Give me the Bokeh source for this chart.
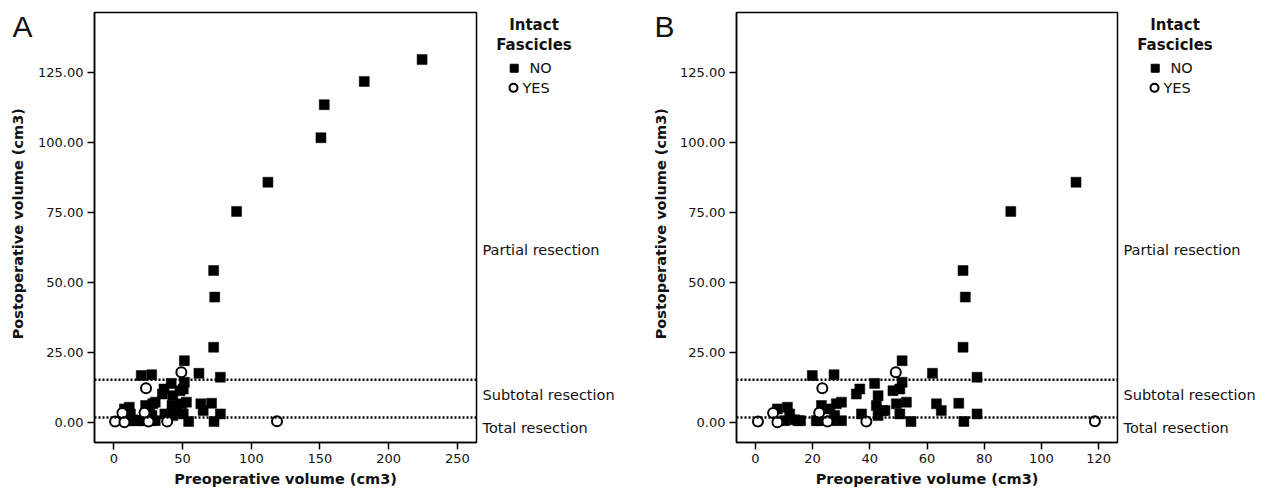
import math
from bokeh.plotting import figure
from bokeh.models import Span, FixedTicker, PrintfTickFormatter, Range1d
from bokeh.core.properties import value
from bokeh.layouts import row
from bokeh.embed import file_html
from bokeh.resources import INLINE

# ---- data ----
preop_no = [7.7, 11.2, 12.0, 13.7, 15.8, 10.2, 14.9,
            19.9, 27.5,
            23.1, 21.9, 26.0, 28.3, 30.1, 27.7, 30.1, 26.6, 21.3,
            35.3, 36.5, 37.1,
            51.3, 41.7, 51.3, 50.5, 48.1, 42.9, 42.3, 44.6, 42.9, 49.3, 52.8, 50.5, 54.4, 45.3,
            61.9, 63.3, 65.0, 71.1, 72.9, 77.5, 77.5,
            72.6, 73.4, 72.6,
            89.3, 112.1,
            150.7, 153.1, 182.2, 224.3]
postop_no = [4.9, 5.5, 3.1, 1.0, 0.7, 0.7, 0.7,
             16.8, 17.1,
             6.1, 0.7, 4.9, 6.7, 7.3, 2.5, 0.7, 0.7, 0.7,
             10.2, 12.0, 3.1,
             22.1, 14.0, 14.4, 12.0, 11.4, 9.6, 6.1, 4.3, 2.5, 6.7, 7.3, 3.1, 0.4, 4.3,
             17.6, 6.7, 4.3, 6.9, 0.4, 16.2, 3.1,
             54.3, 44.8, 26.9,
             75.4, 85.8,
             101.7, 113.5, 121.8, 129.6]
preop_yes = [0.9, 6.2, 7.7, 23.4, 22.3, 25.2, 38.8, 49.1, 118.7]
postop_yes = [0.4, 3.4, 0.1, 12.3, 3.5, 0.4, 0.4, 18.0, 0.5]

x_ticks_a = [0, 50, 100, 150, 200, 250]
x_ticks_b = [0, 20, 40, 60, 80, 100, 120]
y_ticks = [0, 25, 50, 75, 100, 125]
subtotal_threshold = 15.3
total_threshold = 1.8
zone_labels = ["Partial resection", "Subtotal resection", "Total resection"]
zone_label_y = [61.7, 9.9, -1.9]
legend_title = ["Intact", "Fascicles"]
legend_labels = ["NO", "YES"]
x_title = "Preoperative volume (cm3)"
y_title = "Postoperative volume (cm3)"

Y_MIN, Y_MAX = -7.1, 146.4
FONT = "DejaVu Sans"
TOP, FH, BOT = 12, 430, 44
TXT = "#111111"


def strip(width):
    s = figure(frame_width=width, frame_height=FH, min_border_left=0, min_border_right=0,
               min_border_top=TOP, min_border_bottom=BOT,
               x_range=Range1d(0, width), y_range=Range1d(Y_MIN, Y_MAX),
               x_axis_type=None, y_axis_type=None,
               output_backend="svg", toolbar_location=None)
    s.outline_line_color = None
    s.background_fill_color = "white"
    s.border_fill_color = "white"
    return s


def add_letter_and_ytitle(s, letter_x, ytitle_x, letter):
    s.text(x=[letter_x], y=[141.4], text=[letter], text_align="left", text_baseline="middle",
           text_font=value("Liberation Sans"), text_font_size="30px", text_color=TXT)
    s.text(x=[ytitle_x], y=[71.0], text=[y_title], angle=math.pi / 2, text_align="center",
           text_baseline="middle", text_font=value(FONT), text_font_size="14.5px",
           text_font_style="bold", text_color=TXT)


def add_side_texts(s, ox):
    # zone labels
    s.text(x=[ox + 4] * 3, y=zone_label_y, text=zone_labels, text_align="left",
           text_baseline="middle", text_font=value(FONT), text_font_size="14.5px",
           text_color=TXT)
    # legend title
    s.text(x=[ox + 55.5] * 2, y=[142.1, 134.9], text=legend_title, text_align="center",
           text_baseline="middle", text_font=value(FONT), text_font_size="15px",
           text_font_style="bold", text_color=TXT)
    # legend swatches and labels
    s.scatter(x=[ox + 35.7], y=[126.5], marker="square", size=8, fill_color="black",
              line_color="black")
    s.scatter(x=[ox + 35.0], y=[119.5], marker="circle", size=8, fill_color="white",
              line_color="black", line_width=2)
    s.text(x=[ox + 51, ox + 44], y=[126.5, 119.5], text=legend_labels, text_align="left",
           text_baseline="middle", text_font=value(FONT), text_font_size="14.5px",
           text_color=TXT)


def make_main(x_start, x_end, xticks, xmax_data, fw, bl, br):
    p = figure(frame_width=fw, frame_height=FH, min_border_left=bl, min_border_right=br,
               min_border_top=TOP, min_border_bottom=BOT,
               x_range=Range1d(x_start, x_end), y_range=Range1d(Y_MIN, Y_MAX),
               output_backend="svg", toolbar_location=None)
    p.xgrid.visible = False
    p.ygrid.visible = False
    p.outline_line_color = "black"
    p.outline_line_width = 1.5
    p.outline_line_alpha = 1
    p.background_fill_color = "white"
    p.border_fill_color = "white"

    for ax in (p.xaxis[0], p.yaxis[0]):
        ax.axis_line_color = "black"
        ax.axis_line_width = 1.5
        ax.major_tick_line_color = "black"
        ax.major_tick_line_width = 1.5
        ax.major_tick_in = 0
        ax.major_tick_out = 7
        ax.minor_tick_line_color = None
        ax.major_label_text_font = FONT
        ax.major_label_text_font_size = "13px"
        ax.major_label_text_color = TXT
        ax.axis_label_text_font = FONT
        ax.axis_label_text_font_size = "14.5px"
        ax.axis_label_text_font_style = "bold"
        ax.axis_label_text_color = TXT

    p.xaxis.ticker = FixedTicker(ticks=xticks)
    p.xaxis.axis_label = x_title
    p.xaxis.major_label_standoff = 4
    p.xaxis.axis_label_standoff = 5
    p.yaxis.ticker = FixedTicker(ticks=y_ticks)
    p.yaxis.formatter = PrintfTickFormatter(format="%.2f")
    p.yaxis.major_label_standoff = 4

    for loc in (subtotal_threshold, total_threshold):
        p.add_layout(Span(location=loc, dimension="width", line_color="black",
                          line_width=2.5, line_dash="2 2"))

    xn = [x for x in preop_no if x <= xmax_data]
    yn = [y for x, y in zip(preop_no, postop_no) if x <= xmax_data]
    xy = [x for x in preop_yes if x <= xmax_data]
    yy = [y for x, y in zip(preop_yes, postop_yes) if x <= xmax_data]

    p.scatter(xn, yn, marker="square", size=10, fill_color="black",
              line_color="black", line_width=0.5)
    p.scatter(xy, yy, marker="circle", size=10, fill_color="white",
              line_color="black", line_width=2)
    return p


left_a = strip(35)
add_letter_and_ytitle(left_a, letter_x=12, ytitle_x=17, letter="A")

main_a = make_main(-14.1, 263.9, x_ticks_a, 1000, 382, 58, 2)

mid = strip(197)
add_side_texts(mid, 0)
add_letter_and_ytitle(mid, letter_x=176, ytitle_x=182, letter="B")

main_b = make_main(-6.6, 126.6, x_ticks_b, 125, 381, 61, 2)

right_b = strip(140)
add_side_texts(right_b, 0)

layout = row(left_a, main_a, mid, main_b, right_b, spacing=0)
open("out.html", "w").write(file_html(layout, INLINE))
